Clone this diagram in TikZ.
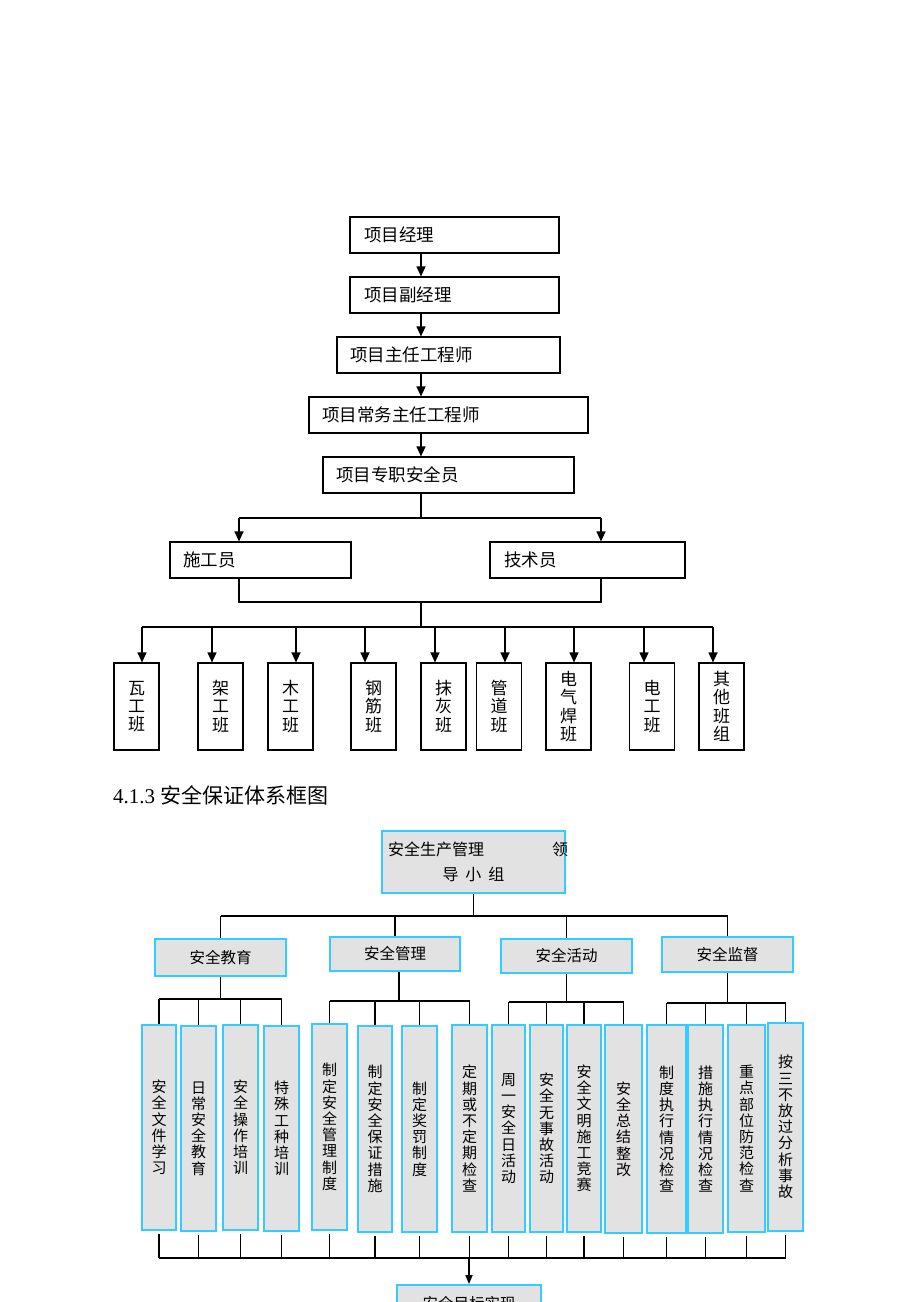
\documentclass[tikz,border=0pt]{standalone}
\usepackage{fontspec}
\setmainfont{Liberation Serif}
\newfontfamily\cjk{Noto Sans CJK SC}
\usetikzlibrary{arrows.meta}
\definecolor{bcyan}{HTML}{33CCFF}
\definecolor{texgray}{HTML}{E2E2E2}
\begin{document}
\begin{tikzpicture}[x=1pt,y=-1pt,
  tbox/.style={draw=black,line width=1.2pt,minimum height=36pt,inner ysep=0pt,align=left,font=\cjk\fontsize{17.5}{18}\selectfont},
  vbox/.style={draw=black,line width=1.2pt,minimum width=45pt,minimum height=87pt,inner sep=0pt,align=center,font=\cjk\fontsize{17}{18.3}\selectfont},
  tline/.style={line width=1.2pt},
  tarr/.style={line width=1.2pt,-{Triangle[length=10pt,width=9pt]}},
  cbox/.style={draw=bcyan,fill=texgray,line width=1.8pt,inner sep=0pt,align=center},
  gbox/.style={cbox,font=\cjk\fontsize{15.5}{16}\selectfont},
  lbox/.style={cbox,font=\cjk\fontsize{15}{16.2}\selectfont},
  bline/.style={line width=1.6pt},
  barr/.style={line width=1.6pt,-{Triangle[length=9pt,width=7pt]}}
]
\useasboundingbox (0,0) rectangle (920,1302);
\clip (0,0) rectangle (920,1302);

% ---------- top chart ----------
\node[tbox,text width=181pt,inner xsep=14pt] (p1) at (454.5,235) {项目经理};
\node[tbox,text width=181pt,inner xsep=14pt] (p2) at (454.5,295) {项目副经理};
\node[tbox,text width=197pt,inner xsep=13pt] (p3) at (448.5,355) {项目主任工程师};
\node[tbox,text width=253pt,inner xsep=13pt] (p4) at (448.5,415) {项目常务主任工程师};
\node[tbox,text width=225pt,inner xsep=13pt] (p5) at (448.5,475) {项目专职安全员};
\node[tbox,text width=155pt,inner xsep=13pt] (s1) at (260.5,560) {施工员};
\node[tbox,text width=167pt,inner xsep=14pt] (s2) at (587.5,560) {技术员};

\coordinate (ax) at (421,0);
\draw[tarr] (p1.south -| ax) -- (p2.north -| ax);
\draw[tarr] (p2.south -| ax) -- (p3.north -| ax);
\draw[tarr] (p3.south -| ax) -- (p4.north -| ax);
\draw[tarr] (p4.south -| ax) -- (p5.north -| ax);

\coordinate (j0) at (421,518);
\coordinate (sx1) at (239,518);
\coordinate (sx2) at (601,518);
\draw[tline] (p5.south -| ax) -- (j0);
\draw[tline] (sx1) -- (sx2);
\draw[tarr] (sx1) -- (sx1 |- s1.north);
\draw[tarr] (sx2) -- (sx2 |- s2.north);

\coordinate (jj1) at (239,602);
\coordinate (jj2) at (601,602);
\coordinate (jm) at (421,602);
\draw[tline] (s1.south -| jj1) -- (jj1) -- (jj2) -- (s2.south -| jj2);

\node[vbox] (b1) at (136.5,706.5) {瓦\\工\\班};
\node[vbox] (b2) at (220.5,706.5) {架\\工\\班};
\node[vbox] (b3) at (290.5,706.5) {木\\工\\班};
\node[vbox] (b4) at (373.5,706.5) {钢\\筋\\班};
\node[vbox] (b5) at (443.5,706.5) {抹\\灰\\班};
\node[vbox] (b6) at (499,706.5) {管\\道\\班};
\node[vbox] (b7) at (568.5,706.5) {电\\气\\焊\\班};
\node[vbox] (b8) at (652,706.5) {电\\工\\班};
\node[vbox] (b9) at (721.5,706.5) {其\\他\\班\\组};

\coordinate (a1) at (142,627);
\coordinate (a2) at (212,627);
\coordinate (a3) at (296,627);
\coordinate (a4) at (365,627);
\coordinate (a5) at (435,627);
\coordinate (a6) at (505,627);
\coordinate (a7) at (574,627);
\coordinate (a8) at (644,627);
\coordinate (a9) at (713,627);
\draw[tline] (jm) -- (jm |- a1);
\draw[tline] (a1) -- (a9);
\foreach \i in {1,...,9} \draw[tarr] (a\i) -- (a\i |- b\i.north);

% ---------- heading ----------
\node[anchor=west,inner sep=0pt,font=\fontsize{21}{21}\selectfont] (head) at (113,795) {4.1.3 {\cjk 安全保证体系框图}};

% ---------- bottom chart ----------
\node[cbox,minimum width=183pt,minimum height=62pt,text width=183pt,font=\cjk\fontsize{16}{25}\selectfont] (lead) at (473.5,862)
  {\makebox[183pt][l]{\hspace*{6pt}安全生产管理\hspace{68pt}领}\\\makebox[183pt][c]{导\hspace{7pt}小\hspace{7pt}组}};

\node[gbox,minimum width=131pt,minimum height=37pt] (g1) at (220.5,957.5) {安全教育};
\node[gbox,minimum width=130pt,minimum height=34pt] (g2) at (395,954) {安全管理};
\node[gbox,minimum width=131pt,minimum height=34pt] (g3) at (566.5,956) {安全活动};
\node[gbox,minimum width=131pt,minimum height=35pt] (g4) at (727.5,954.5) {安全监督};

\coordinate (u0) at (0,916);
\draw[bline] (lead.south) -- (lead.south |- u0);
\draw[bline] (g1.north |- u0) -- (g4.north |- u0);
\foreach \g in {g1,g2,g3,g4} \draw[bline] (\g.north |- u0) -- (\g.north);

\node[lbox,minimum width=34pt,minimum height=205pt] (c1) at (159,1127.5) {安\\全\\文\\件\\学\\习};
\node[lbox,minimum width=35pt,minimum height=205pt] (c2) at (198.5,1128.5) {日\\常\\安\\全\\教\\育};
\node[lbox,minimum width=35pt,minimum height=205pt] (c3) at (240.5,1127.5) {安\\全\\操\\作\\培\\训};
\node[lbox,minimum width=35pt,minimum height=205pt] (c4) at (281.5,1128.5) {特\\殊\\工\\种\\培\\训};
\node[lbox,minimum width=35pt,minimum height=206pt] (c5) at (329.5,1127) {制\\定\\安\\全\\管\\理\\制\\度};
\node[lbox,minimum width=34pt,minimum height=206pt] (c6) at (375,1129) {制\\定\\安\\全\\保\\证\\措\\施};
\node[lbox,minimum width=35pt,minimum height=206pt] (c7) at (419.5,1129) {制\\定\\奖\\罚\\制\\度};
\node[lbox,minimum width=35pt,minimum height=207pt] (c8) at (469.5,1128.5) {定\\期\\或\\不\\定\\期\\检\\查};
\node[lbox,minimum width=33pt,minimum height=207pt] (c9) at (508.5,1128.5) {周\\一\\安\\全\\日\\活\\动};
\node[lbox,minimum width=33pt,minimum height=207pt] (c10) at (546.5,1128.5) {安\\全\\无\\事\\故\\活\\动};
\node[lbox,minimum width=34pt,minimum height=207pt] (c11) at (584,1128.5) {安\\全\\文\\明\\施\\工\\竞\\赛};
\node[lbox,minimum width=37pt,minimum height=208pt] (c12) at (623.5,1129) {安\\全\\总\\结\\整\\改};
\node[lbox,minimum width=39pt,minimum height=208pt] (c13) at (666.5,1129) {制\\度\\执\\行\\情\\况\\检\\查};
\node[lbox,minimum width=35pt,minimum height=208pt] (c14) at (705.5,1129) {措\\施\\执\\行\\情\\况\\检\\查};
\node[lbox,minimum width=37pt,minimum height=207pt] (c15) at (746.5,1128.5) {重\\点\\部\\位\\防\\范\\检\\查};
\node[lbox,minimum width=35pt,minimum height=208pt] (c16) at (785.5,1127) {按\\三\\不\\放\\过\\分\\析\\事\\故};

% group buses
\coordinate (eb) at (0,999);
\draw[bline] (g1.south) -- (g1.south |- eb);
\draw[bline] (c1.north |- eb) -- (c4.north |- eb);
\foreach \i in {1,...,4} \draw[bline] (c\i.north |- eb) -- (c\i.north);

\coordinate (mb) at (0,1001);
\draw[bline] ([xshift=4pt]g2.south) -- ([xshift=4pt]g2.south |- mb);
\draw[bline] (c5.north |- mb) -- (c8.north |- mb);
\foreach \i in {5,...,8} \draw[bline] (c\i.north |- mb) -- (c\i.north);

\coordinate (vb) at (0,1002);
\draw[bline] (g3.south) -- (g3.south |- vb);
\draw[bline] (c9.north |- vb) -- (c12.north |- vb);
\foreach \i in {9,...,12} \draw[bline] (c\i.north |- vb) -- (c\i.north);

\coordinate (sb) at (0,1003);
\draw[bline] (g4.south) -- (g4.south |- sb);
\draw[bline] (c13.north |- sb) -- (c16.north |- sb);
\foreach \i in {13,...,16} \draw[bline] (c\i.north |- sb) -- (c\i.north);

% bottom collector
\node[gbox,minimum width=144pt,minimum height=38pt] (goal) at (469,1304) {安全目标实现};
\coordinate (fb) at (0,1258);
\foreach \i in {1,...,16} \draw[bline] ([yshift=-3pt]c\i.south) -- (c\i.south |- fb);
\draw[bline] (c1.south |- fb) -- (c16.south |- fb);
\draw[barr] (goal.north |- fb) -- (goal.north);
\end{tikzpicture}
\end{document}
